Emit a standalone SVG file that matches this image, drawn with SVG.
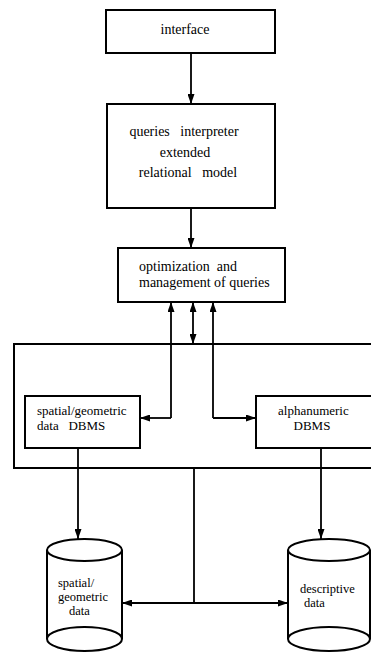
<svg xmlns="http://www.w3.org/2000/svg" width="371" height="654" viewBox="0 0 371 654">
  <style>
    .box { fill: #fff; stroke: #000; stroke-width: 2; }
    .frame { fill: none; stroke: #000; stroke-width: 2; }
    .wire { fill: none; stroke: #000; stroke-width: 1.8; }
    .lbl { font-family: "Liberation Serif", "Times New Roman", serif; font-size: 14px; fill: #000; }
    .md { font-size: 13px; }
    .sm { font-size: 12.5px; }
  </style>
  <defs>
    <marker id="ah" viewBox="0 0 10 7" refX="10" refY="3.5" markerWidth="10" markerHeight="7" markerUnits="userSpaceOnUse" orient="auto-start-reverse">
      <path d="M0,0 L10,3.5 L0,7 Z" fill="#000"/>
    </marker>
  </defs>
  <rect width="371" height="654" fill="#fff"/>

  <!-- enclosing frame of the storage layer (open to the right) -->
  <g id="storage-frame">
    <path class="frame" d="M372,344 H14 V468 H372"/>
  </g>

  <g id="interface">
    <rect class="box" x="106" y="10" width="169" height="43"/>
    <text class="lbl" x="185" y="34" text-anchor="middle">interface</text>
  </g>

  <g id="interpreter">
    <rect class="box" x="107" y="104" width="168" height="104"/>
    <text class="lbl" x="184" y="136" text-anchor="middle" xml:space="preserve">queries   interpreter</text>
    <text class="lbl" x="185" y="157" text-anchor="middle">extended</text>
    <text class="lbl" x="188" y="177" text-anchor="middle" xml:space="preserve">relational   model</text>
  </g>

  <g id="optimizer">
    <rect class="box" x="118" y="248" width="167" height="54"/>
    <text class="lbl" x="139" y="271" xml:space="preserve">optimization  and</text>
    <text class="lbl" x="139" y="287">management of queries</text>
  </g>

  <g id="spatial-dbms">
    <rect class="box" x="25" y="396" width="115" height="52"/>
    <text class="lbl md" x="37" y="415">spatial/geometric</text>
    <text class="lbl md" x="37" y="430" xml:space="preserve">data   DBMS</text>
  </g>

  <g id="alpha-dbms">
    <path class="box" d="M373,396 H256 V448 H373"/>
    <text class="lbl md" x="278" y="415">alphanumeric</text>
    <text class="lbl md" x="312" y="430" text-anchor="middle">DBMS</text>
  </g>

  <g id="spatial-data">
    <path class="box" d="M47,550 V639 A37.5,12 0 0 0 122,639 V550"/>
    <ellipse class="box" cx="84.5" cy="550" rx="37.5" ry="11"/>
    <path class="frame" d="M47,639 A37.5,12 0 0 1 122,639"/>
    <text class="lbl sm" x="58" y="587">spatial/</text>
    <text class="lbl sm" x="58" y="601">geometric</text>
    <text class="lbl sm" x="69" y="615">data</text>
  </g>

  <g id="descriptive-data">
    <path class="box" d="M288,550 V639 A41,12 0 0 0 370,639 V550"/>
    <ellipse class="box" cx="329" cy="550" rx="41" ry="11"/>
    <path class="frame" d="M288,639 A41,12 0 0 1 370,639"/>
    <text class="lbl sm" x="300" y="593">descriptive</text>
    <text class="lbl sm" x="304" y="607">data</text>
  </g>

  <g id="connectors">
    <path class="wire" d="M191,53 V104" marker-end="url(#ah)"/>
    <path class="wire" d="M191,208 V248" marker-end="url(#ah)"/>
    <path class="wire" d="M171,418 V302" marker-end="url(#ah)"/>
    <path class="wire" d="M171,418 H140" marker-end="url(#ah)"/>
    <path class="wire" d="M213,418 V302" marker-end="url(#ah)"/>
    <path class="wire" d="M213,418 H256" marker-end="url(#ah)"/>
    <path class="wire" d="M193,302 V344" marker-start="url(#ah)" marker-end="url(#ah)"/>
    <path class="wire" d="M78,448 V539" marker-end="url(#ah)"/>
    <path class="wire" d="M321,448 V539" marker-end="url(#ah)"/>
    <path class="wire" d="M194,468 V603"/>
    <path class="wire" d="M194,603 H122" marker-end="url(#ah)"/>
    <path class="wire" d="M194,603 H288" marker-end="url(#ah)"/>
  </g>
</svg>
